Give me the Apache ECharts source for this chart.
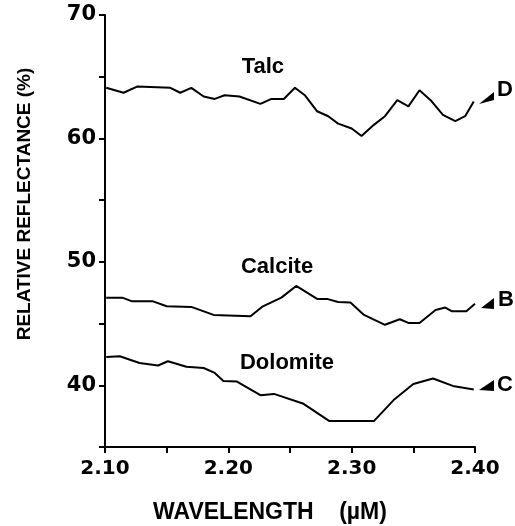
<!DOCTYPE html>
<html>
<head>
<meta charset="utf-8">
<script src="https://cdn.jsdelivr.net/npm/echarts@6/dist/echarts.min.js"></script>
<style>
  html, body { margin: 0; padding: 0; background: #fff; }
  #chart { width: 515px; height: 526px; }
</style>
</head>
<body>
<div id="chart"></div>
<script>
// Talc spectrum (curve D)
const talcX = [2.101, 2.115, 2.126, 2.153, 2.161, 2.170, 2.180, 2.189, 2.197, 2.209, 2.226, 2.235, 2.245, 2.254, 2.262, 2.272, 2.281, 2.289, 2.300, 2.308, 2.318, 2.327, 2.337, 2.346, 2.355, 2.364, 2.374, 2.384, 2.392, 2.399];
const talcY = [64.1, 63.7, 64.2, 64.1, 63.7, 64.1, 63.4, 63.2, 63.5, 63.4, 62.8, 63.2, 63.2, 64.1, 63.5, 62.2, 61.8, 61.2, 60.8, 60.2, 61.1, 61.8, 63.1, 62.6, 63.9, 63.1, 61.9, 61.4, 61.8, 63.0];

// Calcite spectrum (curve B)
const calciteX = [2.101, 2.114, 2.122, 2.139, 2.150, 2.170, 2.188, 2.218, 2.228, 2.243, 2.255, 2.272, 2.280, 2.289, 2.299, 2.310, 2.327, 2.339, 2.346, 2.355, 2.368, 2.376, 2.381, 2.393, 2.400];
const calciteY = [47.1, 47.1, 46.8, 46.8, 46.4, 46.35, 45.7, 45.6, 46.4, 47.1, 48.05, 47.0, 47.0, 46.75, 46.7, 45.7, 44.9, 45.35, 45.05, 45.05, 46.1, 46.3, 46.0, 46.0, 46.6];

// Dolomite spectrum (curve C)
const dolomiteX = [2.101, 2.112, 2.128, 2.143, 2.151, 2.166, 2.180, 2.189, 2.196, 2.207, 2.226, 2.237, 2.261, 2.282, 2.318, 2.334, 2.350, 2.366, 2.382, 2.399];
const dolomiteY = [42.3, 42.35, 41.8, 41.6, 41.95, 41.5, 41.4, 41.0, 40.35, 40.3, 39.2, 39.3, 38.5, 37.1, 37.1, 38.8, 40.1, 40.55, 39.95, 39.65];

// curve names and where they are written
const curveNames = ['Talc', 'Calcite', 'Dolomite'];
const namePos = [[2.228, 65.8], [2.2395, 49.57], [2.2476, 41.8]];

const pair = (xs, ys) => xs.map((x, i) => [x, ys[i]]);

const chart = echarts.init(document.getElementById('chart'));

const lineStyle = { color: '#000', width: 2 };
const mkSeries = (name, data) => ({
    name: name,
    type: 'line',
    data: data,
    showSymbol: false,
    smooth: false,
    lineStyle: lineStyle,
    silent: true
});

chart.setOption({
    animation: false,
    grid: { left: 105, right: 40, top: 15, bottom: 79 },
    xAxis: {
        type: 'value',
        min: 2.1,
        max: 2.4,
        interval: 0.05,
        splitLine: { show: false },
        axisLine: { lineStyle: { color: '#000', width: 2 } },
        axisTick: { length: 6, lineStyle: { color: '#000', width: 2 } },
        axisLabel: {
            color: '#000',
            fontFamily: 'DejaVu Sans',
            fontWeight: 'bold',
            fontSize: 20,
            margin: 12,
            formatter: v => (Math.round(v * 100) % 10 === 0 ? v.toFixed(2) : '')
        }
    },
    yAxis: {
        type: 'value',
        min: 35,
        max: 70,
        interval: 5,
        splitLine: { show: false },
        axisLine: { show: true, lineStyle: { color: '#000', width: 2 } },
        axisTick: { show: true, length: 6, lineStyle: { color: '#000', width: 2 } },
        axisLabel: {
            color: '#000',
            fontFamily: 'DejaVu Sans',
            fontWeight: 'bold',
            fontSize: 21,
            margin: 9,
            formatter: v => (v % 10 === 0 ? String(v) : '')
        }
    },
    series: [
        mkSeries('Talc', pair(talcX, talcY)),
        mkSeries('Calcite', pair(calciteX, calciteY)),
        mkSeries('Dolomite', pair(dolomiteX, dolomiteY))
    ]
});

// curve names, placed through the axes
const textFont = { fill: '#000', fontFamily: 'Liberation Sans', fontWeight: 'bold', fontSize: 22 };
const labels = curveNames.map((n, i) => {
    const p = chart.convertToPixel({ gridIndex: 0 }, namePos[i]);
    return {
        type: 'text', x: p[0], y: p[1],
        style: Object.assign({ text: n, align: 'center', verticalAlign: 'middle' }, textFont)
    };
});

// small wedge arrows pointing at the curve letters
const arrow = (pts) => ({ type: 'polygon', shape: { points: pts }, style: { fill: '#000' } });

chart.setOption({
    graphic: labels.concat([
        arrow([[479, 104], [494, 92], [494, 100]]),
        arrow([[481, 308], [494, 298], [494, 309]]),
        arrow([[479, 390], [494, 380], [494, 391]]),
        { type: 'text', x: 497, y: 90, style: Object.assign({ text: 'D', verticalAlign: 'middle' }, textFont) },
        { type: 'text', x: 498, y: 300, style: Object.assign({ text: 'B', verticalAlign: 'middle' }, textFont) },
        { type: 'text', x: 497, y: 385, style: Object.assign({ text: 'C', verticalAlign: 'middle' }, textFont) },
        {
            type: 'text', x: 25, y: 204, rotation: Math.PI / 2,
            style: Object.assign({ text: 'RELATIVE REFLECTANCE (%)', align: 'center', verticalAlign: 'middle' }, textFont, { fontSize: 19 })
        },
        {
            type: 'text', x: 270, y: 513,
            style: Object.assign({ text: 'WAVELENGTH    (µM)', align: 'center', verticalAlign: 'middle' }, textFont, { fontSize: 23 })
        }
    ])
});
</script>
</body>
</html>
